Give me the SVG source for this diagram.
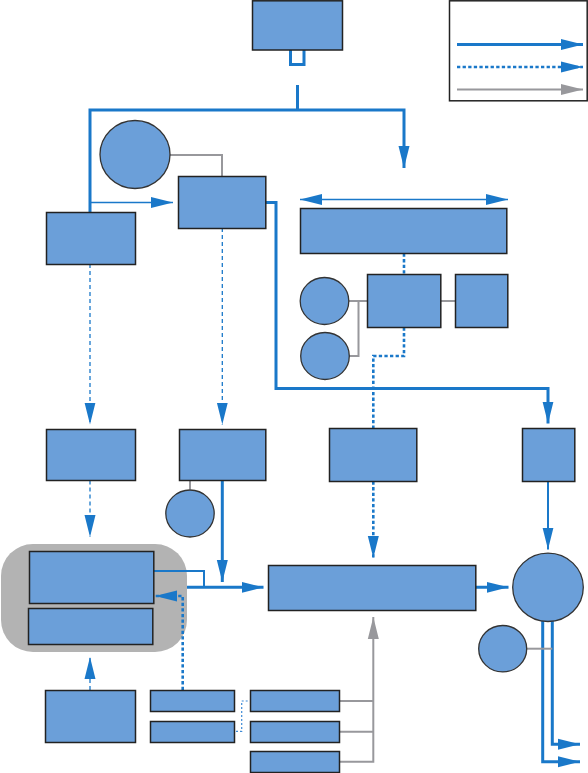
<svg xmlns="http://www.w3.org/2000/svg" width="588" height="773" viewBox="0 0 588 773">
<style>
.n{fill:#6b9fd9;stroke:#222;stroke-width:1.5}
.c{fill:#6b9fd9;stroke:#333;stroke-width:1.3}
.b3{fill:none;stroke:#1a78c9;stroke-width:3}
.b2{fill:none;stroke:#1a78c9;stroke-width:2}
.b1{fill:none;stroke:#1a78c9;stroke-width:1.5}
.dt{fill:none;stroke:#1a78c9;stroke-width:2.6;stroke-dasharray:3.3,2.3}
.dn{fill:none;stroke:#1a78c9;stroke-width:1.3;stroke-dasharray:4,3}
.dl{fill:none;stroke:#3d8ad6;stroke-width:1.2;stroke-dasharray:2,2}
.g{fill:none;stroke:#98989c;stroke-width:2}
</style>
<defs>
<marker id="ab" markerUnits="userSpaceOnUse" markerWidth="22" markerHeight="12" viewBox="0 0 22 12" refX="22" refY="6" orient="auto-start-reverse"><path d="M0,0.5 L22,6 L0,11.5 z" fill="#1a78c9"/></marker>
<marker id="ag" markerUnits="userSpaceOnUse" markerWidth="22" markerHeight="12" viewBox="0 0 22 12" refX="22" refY="6" orient="auto"><path d="M0,0.5 L22,6 L0,11.5 z" fill="#98989c"/></marker>
</defs>
<g id="legend">
<rect x="449.5" y="0.8" width="137.7" height="100" fill="#fff" stroke="#222" stroke-width="1.5"/>
<line class="b3" x1="457" y1="44.5" x2="583" y2="44.5" marker-end="url(#ab)"/>
<line class="dt" x1="457" y1="67" x2="583" y2="67" marker-end="url(#ab)"/>
<line class="g" x1="457" y1="89.5" x2="583" y2="89.5" marker-end="url(#ag)"/>
</g>
<g id="container">
<rect x="1" y="544" width="186" height="108" rx="32" ry="32" fill="#b3b3b3"/>
</g>
<g id="connectors">
<path class="b3" d="M290.5,50 V64.5 H304 V50"/>
<path class="b3" d="M297.5,85 V110"/>
<path class="b3" d="M90,212 V110 H404 V168" marker-end="url(#ab)"/>
<line class="b1" x1="90" y1="202.5" x2="173" y2="202.5" marker-end="url(#ab)"/>
<line class="b1" x1="300" y1="199.5" x2="508" y2="199.5" marker-start="url(#ab)" marker-end="url(#ab)"/>
<path class="g" d="M170,155 H222 V176"/>
<path class="b3" d="M266,202.5 H276 V388.5 H548 V423.5" marker-end="url(#ab)"/>
<path class="dn" d="M90,264 V424.5" marker-end="url(#ab)"/>
<path class="dn" d="M222.3,228 V424.5" marker-end="url(#ab)"/>
<path class="dt" d="M404,253.5 V274"/>
<path class="g" d="M348.5,301 H367 M358.5,301 V356 H349"/>
<line class="g" x1="441" y1="301" x2="455" y2="301"/>
<path class="dt" d="M404,327.5 V356 H373.3 V428"/>
<path class="dn" d="M90,480.5 V537" marker-end="url(#ab)"/>
<line class="g" x1="190" y1="480.5" x2="190" y2="489.5"/>
<path class="b3" d="M222.3,480.5 V582" marker-end="url(#ab)"/>
<path class="b2" d="M154,571 H204 V587"/>
<path class="b3" d="M187,587.3 H263.5" marker-end="url(#ab)"/>
<path class="dt" d="M182.7,690 V596 H155" marker-end="url(#ab)"/>
<path class="dt" d="M373.3,481.5 V558" marker-end="url(#ab)"/>
<path class="b2" d="M548,481.5 V549.5" marker-end="url(#ab)"/>
<path class="b3" d="M476,587.3 H508.5" marker-end="url(#ab)"/>
<path class="b3" d="M552.3,620 V744.3 H580" marker-end="url(#ab)"/>
<path class="b3" d="M542.7,620 V761.7 H580" marker-end="url(#ab)"/>
<line class="g" x1="526.7" y1="648.7" x2="552.3" y2="648.7"/>
<path class="dn" d="M90,690 V657" marker-end="url(#ab)"/>
<path class="g" d="M339.5,701 H373.3 M339.5,731.7 H373.3 M339.5,761.7 H373.3 V617" marker-end="url(#ag)"/>
<path class="dl" d="M236,731.3 H241.7 V701 H249"/>
</g>
<g id="n_top"><rect class="n" x="252.5" y="0.8" width="90" height="49.2"/></g>
<g id="n_circle1"><ellipse class="c" cx="135" cy="154.5" rx="35" ry="34"/></g>
<g id="n_box_a"><rect class="n" x="46.5" y="212.5" width="89" height="52"/></g>
<g id="n_box_b"><rect class="n" x="178.5" y="176.5" width="87.3" height="52"/></g>
<g id="n_wide"><rect class="n" x="300.5" y="208.5" width="206.3" height="45"/></g>
<g id="n_mid"><rect class="n" x="367.5" y="274.5" width="73.3" height="53"/></g>
<g id="n_right"><rect class="n" x="455.5" y="274.5" width="52.3" height="53"/></g>
<g id="n_c2"><ellipse class="c" cx="324.5" cy="301" rx="24.3" ry="23.5"/></g>
<g id="n_c3"><ellipse class="c" cx="325" cy="356" rx="24.3" ry="23.5"/></g>
<g id="n_r2a"><rect class="n" x="46.5" y="429.5" width="89" height="51"/></g>
<g id="n_r2b"><rect class="n" x="179.5" y="429.5" width="86.3" height="51"/></g>
<g id="n_r2c"><rect class="n" x="329.5" y="428.5" width="87.3" height="53"/></g>
<g id="n_r2d"><rect class="n" x="522.5" y="428.5" width="52.3" height="53"/></g>
<g id="n_c4"><ellipse class="c" cx="190" cy="513.5" rx="24.2" ry="23.5"/></g>
<g id="n_inner1"><rect class="n" x="29.5" y="551.5" width="124.3" height="52"/></g>
<g id="n_inner2"><rect class="n" x="28.5" y="608.5" width="124.3" height="36"/></g>
<g id="n_big"><rect class="n" x="268.5" y="565.5" width="207.3" height="45"/></g>
<g id="n_bigcircle"><ellipse class="c" cx="548" cy="587.3" rx="35.3" ry="34.2"/></g>
<g id="n_c5"><ellipse class="c" cx="502.7" cy="648.7" rx="24" ry="23.2"/></g>
<g id="n_bl"><rect class="n" x="45.5" y="690.5" width="90" height="52"/></g>
<g id="n_s1"><rect class="n" x="150.5" y="690.5" width="84" height="21"/></g>
<g id="n_s2"><rect class="n" x="150.5" y="721.5" width="84" height="21"/></g>
<g id="n_t1"><rect class="n" x="250.5" y="690.5" width="89" height="21"/></g>
<g id="n_t2"><rect class="n" x="250.5" y="721.5" width="89" height="21"/></g>
<g id="n_t3"><rect class="n" x="250.5" y="751.5" width="89" height="21"/></g>
</svg>
